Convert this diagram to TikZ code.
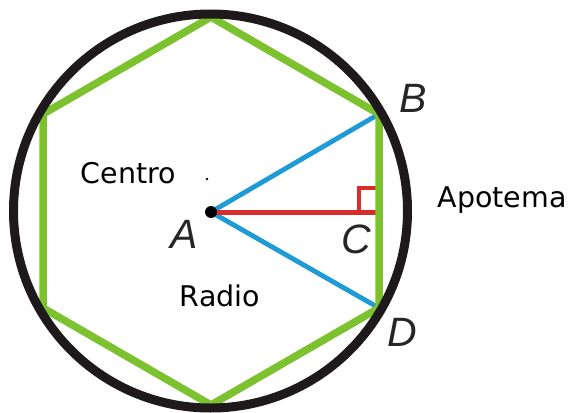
\documentclass[tikz,border=0pt]{standalone}
\usepackage{fontspec}
\newfontfamily\wordfont{DejaVu Sans}
\newfontfamily\letterfont{Liberation Sans}
\definecolor{hexgreen}{RGB}{124,193,46}
\definecolor{radblue}{RGB}{28,155,215}
\definecolor{apored}{RGB}{214,44,42}
\definecolor{circblack}{RGB}{30,26,27}
\tikzset{
  word/.style={font=\wordfont\fontsize{28.5}{30}\selectfont, inner sep=0pt, anchor=base},
  letter/.style={font=\letterfont\itshape\fontsize{41}{42}\selectfont, inner sep=0pt, text=black!85},
  radius line/.style={draw=radblue, line width=4.8pt},
  apo line/.style={draw=apored, line width=5pt},
}
\begin{document}
\begin{tikzpicture}[x=1pt,y=-1pt]
\useasboundingbox (0,0) rectangle (569,412);
% points
\coordinate (O) at (210.5,211);
\coordinate (A) at (211,212);
\coordinate (B) at (379,114);
\coordinate (C) at (377,212);
\coordinate (D) at (379,308);
\coordinate (T) at (211,17);
\coordinate (Bt) at (211,405);
\coordinate (L1) at (43,308);
\coordinate (L2) at (43,114);
\coordinate (R1) at (359,212);
\coordinate (R2) at (359,188);
\coordinate (R3) at (377,188);
% radii and apothem
\draw[radius line] (A) -- (B);
\draw[radius line] (A) -- (D);
\draw[apo line] (A) -- (C);
\draw[apo line, line width=4pt] (R1) -- (R2) -- (R3);
% hexagon
\draw[hexgreen, line width=7.5pt, line join=miter] (T) -- (B) -- (D) -- (Bt) -- (L1) -- (L2) -- cycle;
% circle
\draw[circblack, line width=9pt] (O) circle[radius=197];
% center dots
\fill[black] (A) circle[radius=6];
\fill[black] (207,179) circle[radius=1.4];
% labels
\node[letter] (lA) at (184,234) {A};
\node[letter] (lB) at (413,98) {B};
\node[letter] (lC) at (356,239) {C};
\node[letter] (lD) at (402,332) {D};
\node[word] (centro) at (128.5,183) {Centro};
\node[word] (apotema) at (502,207) {Apotema};
\node[word] (radio) at (220,306) {Radio};
\end{tikzpicture}
\end{document}
